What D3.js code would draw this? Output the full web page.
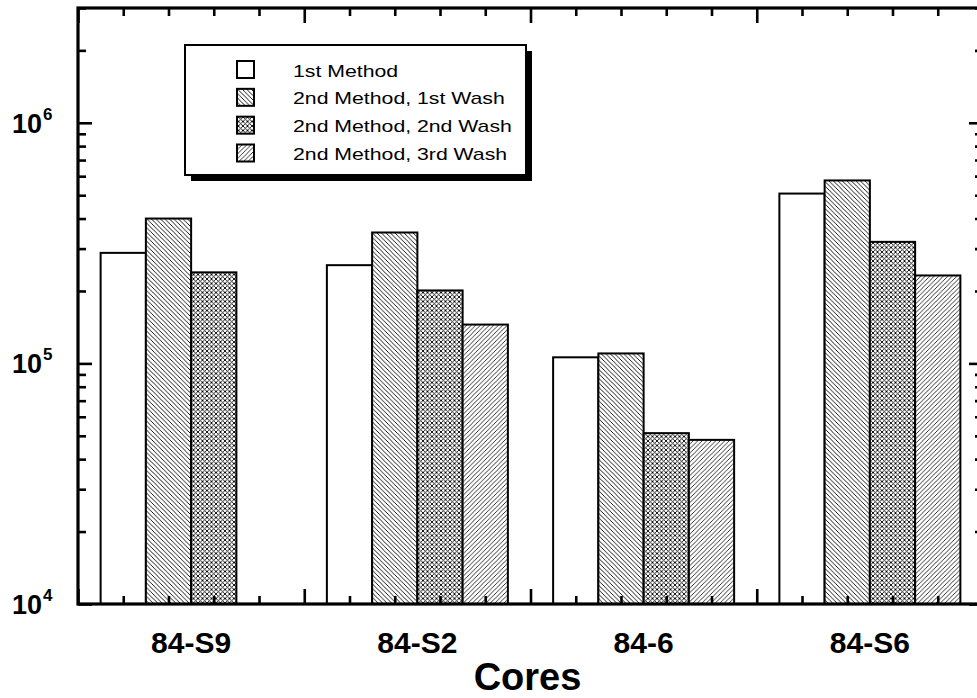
<!DOCTYPE html>
<html>
<head>
  <title>Cores</title>
  <style>
    body {
      background-color: white;
      margin: 0;
      padding: 0;
      overflow: hidden;
    }
    svg text {
      font-family: "Liberation Sans", Arial, sans-serif;
    }
  </style>
</head>
<body>
  <div id="chart-container"></div>

  <script src="https://d3js.org/d3.v7.min.js"></script>
  <script>
    // Data
    const categories = ['84-S9', '84-S2', '84-6', '84-S6'];
    const seriesNames = ['1st Method', '2nd Method, 1st Wash', '2nd Method, 2nd Wash', '2nd Method, 3rd Wash'];
    const method1 = [2.88e5, 2.56e5, 1.06e5, 5.08e5];
    const wash1 = [4.0e5, 3.5e5, 1.1e5, 5.76e5];
    const wash2 = [2.39e5, 2.01e5, 5.13e4, 3.2e5];
    const wash3 = [null, 1.45e5, 4.81e4, 2.32e5];
    const yMajorTicks = [1e4, 1e5, 1e6];
    const yExponents = ['4', '5', '6'];

    const seriesValues = [method1, wash1, wash2, wash3];
    const fills = ['white', 'url(#diagDown)', 'url(#cross)', 'url(#diagUp)'];

    const width = 977, height = 698;
    const plotLeft = 78, plotRight = 983, plotTop = 8, plotBottom = 604;

    const svg = d3.select('#chart-container').append('svg')
      .attr('width', width)
      .attr('height', height);

    // Hatch patterns
    const defs = svg.append('defs');
    function hatch(id, size, paths, sw) {
      const p = defs.append('pattern')
        .attr('id', id)
        .attr('patternUnits', 'userSpaceOnUse')
        .attr('width', size)
        .attr('height', size);
      p.append('rect').attr('width', size).attr('height', size).attr('fill', 'white');
      paths.forEach(d => p.append('path').attr('d', d)
        .attr('stroke', 'black').attr('stroke-width', sw).attr('fill', 'none'));
    }
    const s = 4.5;
    hatch('diagDown', s, [`M0,0 L${s},${s}`, `M${-s / 2},${s / 2} L${s / 2},${s * 1.5}`, `M${s / 2},${-s / 2} L${s * 1.5},${s / 2}`], 0.9);
    hatch('diagUp', s, [`M0,${s} L${s},0`, `M${-s / 2},${s / 2} L${s / 2},${-s / 2}`, `M${s / 2},${s * 1.5} L${s * 1.5},${s / 2}`], 0.8);
    const c = 4.5;
    hatch('cross', c, [`M0,0 L${c},${c}`, `M0,${c} L${c},0`], 0.9);

    // Scales
    const x = d3.scaleBand().domain(categories).range([plotLeft, plotRight]).padding(0);
    const xs = d3.scaleBand().domain(d3.range(4)).range([0.1 * x.bandwidth(), 0.9 * x.bandwidth()]).padding(0);
    const xTick = d3.scaleLinear().domain([0, categories.length]).range([plotLeft, plotRight]);
    const y = d3.scaleLog().domain([1e4, 3e6]).range([plotBottom, plotTop]);

    // Bars
    const rows = [];
    categories.forEach((cat, i) => {
      seriesValues.forEach((vals, j) => {
        if (vals[i] != null) rows.push({ cat, j, v: vals[i] });
      });
    });
    svg.append('g').selectAll('rect')
      .data(rows)
      .enter()
      .append('rect')
      .attr('x', d => x(d.cat) + xs(d.j))
      .attr('y', d => y(d.v))
      .attr('width', xs.bandwidth())
      .attr('height', d => y(1e4) - y(d.v))
      .attr('fill', d => fills[d.j])
      .attr('stroke', 'black')
      .attr('stroke-width', 2);

    // Axes
    const yMinor = [];
    [1e4, 1e5, 1e6].forEach(b => { for (let k = 2; k <= 9; k++) if (b * k <= 3e6) yMinor.push(b * k); });
    const xMajor = d3.range(0, categories.length + 1);
    const xMinor = d3.range(0, categories.length * 5 + 1).filter(k => k % 5 !== 0).map(k => k / 5);

    function styleAxis(g) {
      g.select('.domain').remove();
      g.selectAll('.tick line').attr('stroke', 'black').attr('stroke-width', 2.6);
      g.selectAll('.tick text').remove();
    }

    svg.append('g').attr('transform', `translate(${plotLeft},0)`)
      .call(d3.axisLeft(y).tickValues(yMajorTicks).tickSize(-14).tickFormat('')).call(styleAxis);
    svg.append('g').attr('transform', `translate(${plotLeft},0)`)
      .call(d3.axisLeft(y).tickValues(yMinor).tickSize(-8).tickFormat('')).call(styleAxis);
    svg.append('g').attr('transform', `translate(${plotRight},0)`)
      .call(d3.axisRight(y).tickValues(yMajorTicks).tickSize(-14).tickFormat('')).call(styleAxis);
    svg.append('g').attr('transform', `translate(${plotRight},0)`)
      .call(d3.axisRight(y).tickValues(yMinor).tickSize(-8).tickFormat('')).call(styleAxis);

    svg.append('g').attr('transform', `translate(0,${plotBottom})`)
      .call(d3.axisBottom(xTick).tickValues(xMajor).tickSize(-15).tickFormat('')).call(styleAxis);
    svg.append('g').attr('transform', `translate(0,${plotBottom})`)
      .call(d3.axisBottom(xTick).tickValues(xMinor).tickSize(-8).tickFormat('')).call(styleAxis);
    svg.append('g').attr('transform', `translate(0,${plotTop})`)
      .call(d3.axisTop(xTick).tickValues(xMajor).tickSize(-15).tickFormat('')).call(styleAxis);
    svg.append('g').attr('transform', `translate(0,${plotTop})`)
      .call(d3.axisTop(xTick).tickValues(xMinor).tickSize(-8).tickFormat('')).call(styleAxis);

    // Frame
    svg.append('rect')
      .attr('x', plotLeft).attr('y', plotTop)
      .attr('width', plotRight - plotLeft).attr('height', plotBottom - plotTop)
      .attr('fill', 'none').attr('stroke', 'black').attr('stroke-width', 3.2);

    // Y tick labels (10^n)
    svg.append('g').selectAll('text')
      .data(yMajorTicks)
      .enter()
      .append('text')
      .attr('x', 42)
      .attr('y', d => y(d) + 10)
      .attr('text-anchor', 'end')
      .attr('font-weight', 'bold')
      .attr('font-size', 27)
      .text('10');
    svg.append('g').selectAll('text')
      .data(yMajorTicks)
      .enter()
      .append('text')
      .attr('x', 43)
      .attr('y', d => y(d) - 3)
      .attr('font-weight', 'bold')
      .attr('font-size', 17)
      .text((d, i) => yExponents[i]);

    // Category labels
    svg.append('g').selectAll('text')
      .data(categories)
      .enter()
      .append('text')
      .attr('x', d => x(d) + x.bandwidth() / 2)
      .attr('y', 653)
      .attr('text-anchor', 'middle')
      .attr('font-weight', 'bold')
      .attr('font-size', 30)
      .text(d => d);

    svg.append('text')
      .attr('x', (plotLeft + plotRight) / 2 - 3)
      .attr('y', 690)
      .attr('text-anchor', 'middle')
      .attr('font-weight', 'bold')
      .attr('font-size', 38)
      .text('Cores');

    // Legend
    const lg = svg.append('g');
    lg.append('rect').attr('x', 191).attr('y', 51).attr('width', 341).attr('height', 130).attr('fill', 'black');
    lg.append('rect').attr('x', 185).attr('y', 45).attr('width', 341).attr('height', 130)
      .attr('fill', 'white').attr('stroke', 'black').attr('stroke-width', 2);
    const rowY = d3.scaleLinear().domain([0, 3]).range([69.5, 153]);
    const items = lg.selectAll('g.item')
      .data(seriesNames)
      .enter()
      .append('g')
      .attr('class', 'item');
    items.append('rect')
      .attr('x', 237)
      .attr('y', (d, i) => rowY(i) - 8.5)
      .attr('width', 17)
      .attr('height', 17)
      .attr('fill', (d, i) => fills[i])
      .attr('stroke', 'black')
      .attr('stroke-width', 2);
    items.append('text')
      .attr('transform', (d, i) => `translate(293,${rowY(i) + 7}) scale(1.25,1)`)
      .attr('font-size', 17)
      .text(d => d);
  </script>
</body>
</html>
